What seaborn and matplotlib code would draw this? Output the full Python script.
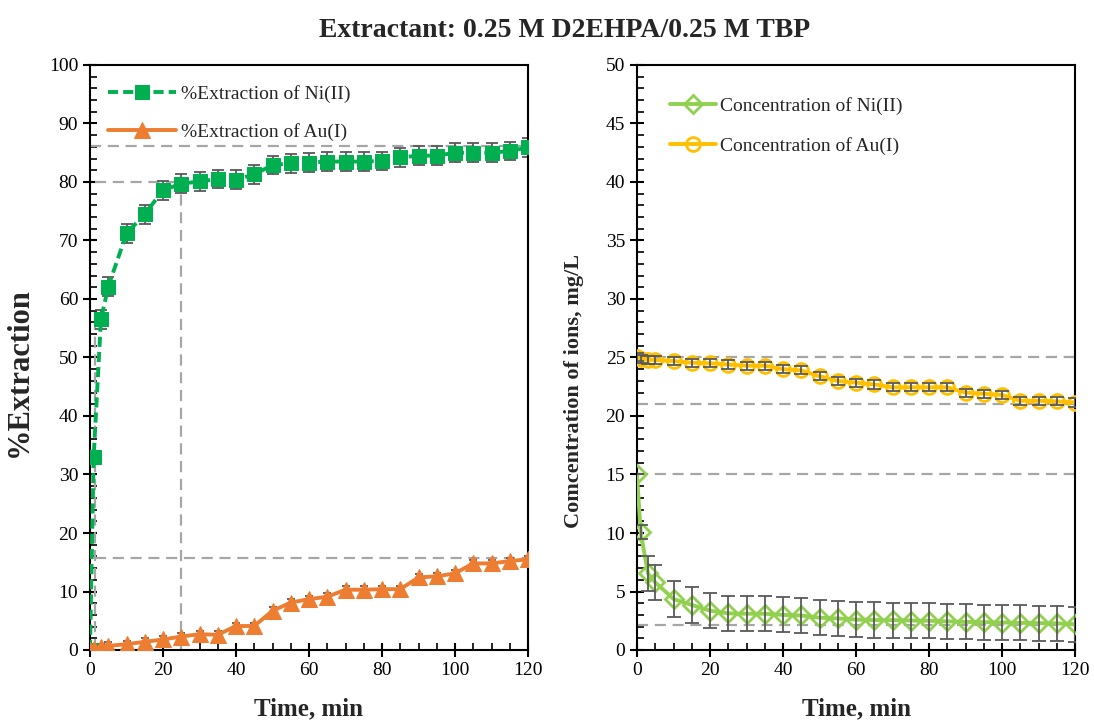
import numpy as np
import pandas as pd
import matplotlib
matplotlib.use("Agg")
import matplotlib.pyplot as plt
import seaborn as sns
from matplotlib.ticker import MultipleLocator

time = [0, 1, 3, 5, 10, 15, 20, 25, 30, 35, 40, 45, 50, 55, 60, 65, 70, 75, 80, 85, 90, 95, 100, 105, 110, 115, 120]
ext_ni = [0, 33.0, 56.5, 62.1, 71.2, 74.5, 78.6, 79.7, 80.1, 80.5, 80.4, 81.3, 82.9, 83.2, 83.3, 83.5, 83.5, 83.5, 83.6, 84.2, 84.5, 84.5, 85.0, 85.0, 85.0, 85.3, 85.9]
ext_ni_err = [0, 1.0, 1.6, 1.6, 1.6, 1.6, 1.6, 1.6, 1.6, 1.6, 1.6, 1.6, 1.6, 1.6, 1.6, 1.6, 1.6, 1.6, 1.6, 1.6, 1.6, 1.6, 1.6, 1.6, 1.6, 1.6, 1.6]
ext_au = [0, 0.2, 0.5, 0.7, 1.0, 1.4, 1.8, 2.3, 2.7, 2.6, 4.1, 4.1, 6.7, 8.1, 8.7, 9.1, 10.3, 10.3, 10.4, 10.4, 12.4, 12.6, 13.1, 14.8, 14.8, 15.2, 15.5]
ext_au_err = [0.6] * 27
conc_ni = [15.0, 10.06, 6.55, 5.78, 4.36, 3.85, 3.36, 3.13, 3.1, 3.1, 3.0, 2.95, 2.76, 2.7, 2.6, 2.56, 2.55, 2.52, 2.5, 2.45, 2.4, 2.38, 2.35, 2.32, 2.3, 2.28, 2.2]
conc_ni_err = [0, 0.6, 1.5, 1.5, 1.5, 1.5, 1.5, 1.5, 1.5, 1.5, 1.5, 1.5, 1.5, 1.5, 1.5, 1.5, 1.5, 1.5, 1.5, 1.5, 1.5, 1.5, 1.5, 1.5, 1.5, 1.5, 1.5]
conc_au = [25.07, 24.9, 24.8, 24.8, 24.7, 24.55, 24.5, 24.4, 24.3, 24.3, 24.0, 23.9, 23.4, 23.0, 22.85, 22.7, 22.45, 22.45, 22.45, 22.45, 22.0, 21.9, 21.8, 21.3, 21.3, 21.25, 21.15]
conc_au_err = [0.35] * 27

# reference guide lines (value pairs)
left_guides_x = [[0, 120], [1.5, 25], [25, 25], [1.5, 120], [1.5, 1.5]]
left_guides_y = [[86.2, 86.2], [80, 80], [0, 80], [15.8, 15.8], [0, 56]]
right_guides_y = [25.0, 21.0, 15.0, 2.1]

sns.set_theme(style="white")
plt.rcParams['font.family'] = ['Liberation Serif', 'DejaVu Serif']

fig = plt.figure(figsize=(10.94, 7.22), dpi=100)
axL = fig.add_axes([90/1094, 72/722, 438/1094, 585/722])
axR = fig.add_axes([637/1094, 72/722, 438/1094, 585/722])

green = "#00B050"
orange = "#ED7D31"
lgreen = "#92D050"
gold = "#FFC000"
ecol = "#595959"
gcol = "#A6A6A6"

df = pd.DataFrame({"time": time, "ext_ni": ext_ni, "ext_au": ext_au, "conc_ni": conc_ni, "conc_au": conc_au})

# guides
for gx, gy in zip(left_guides_x, left_guides_y):
    axL.plot(gx, gy, color=gcol, lw=1.6, ls=(0, (5, 3)), zorder=1)
for gy in right_guides_y:
    axR.plot([0, 120], [gy, gy], color=gcol, lw=1.6, ls=(0, (5, 3)), zorder=1)

# error bars (behind markers)
axL.errorbar(time, ext_ni, yerr=ext_ni_err, fmt="none", ecolor=ecol, elinewidth=1.3, capsize=4, capthick=1.3, zorder=2)
axL.errorbar(time, ext_au, yerr=ext_au_err, fmt="none", ecolor=ecol, elinewidth=1.3, capsize=3, capthick=1.3, zorder=2)

# left
sns.lineplot(data=df, x="time", y="ext_ni", ax=axL, color=green, lw=2.8, linestyle=(0, (2.6, 1.3)),
             marker="s", markersize=10, markeredgecolor=green, label="%Extraction of Ni(II)", zorder=3)
sns.lineplot(data=df, x="time", y="ext_au", ax=axL, color=orange, lw=2.8,
             marker="^", markersize=11, markeredgecolor=orange, label="%Extraction of Au(I)", zorder=3)

# right
sns.lineplot(data=df, x="time", y="conc_ni", ax=axR, color=lgreen, lw=2.8,
             marker="D", markersize=9, markerfacecolor="none", markeredgecolor=lgreen, markeredgewidth=2,
             label="Concentration of Ni(II)", zorder=3)
sns.lineplot(data=df, x="time", y="conc_au", ax=axR, color=gold, lw=2.8,
             marker="o", markersize=10, markerfacecolor="none", markeredgecolor=gold, markeredgewidth=2,
             label="Concentration of Au(I)", zorder=3)
axR.errorbar(time, conc_ni, yerr=conc_ni_err, fmt="none", ecolor=ecol, elinewidth=1.3, capsize=5, capthick=1.3, zorder=4)
axR.errorbar(time, conc_au, yerr=conc_au_err, fmt="none", ecolor=ecol, elinewidth=1.3, capsize=5, capthick=1.3, zorder=4)

for ax, ymax, ymaj, ymin in [(axL, 100, 10, 2), (axR, 50, 5, 1)]:
    ax.set_xlim(0, 120)
    ax.set_ylim(0, ymax)
    ax.xaxis.set_major_locator(MultipleLocator(20))
    ax.xaxis.set_minor_locator(MultipleLocator(5))
    ax.yaxis.set_major_locator(MultipleLocator(ymaj))
    ax.yaxis.set_minor_locator(MultipleLocator(ymin))
    ax.tick_params(which="major", direction="inout", length=10, width=1.5, labelsize=14, color="black", left=True, bottom=True)
    ax.tick_params(which="minor", direction="in", length=5, width=1.2, color="black", left=True, bottom=True)
    for s in ax.spines.values():
        s.set_color("black")
        s.set_linewidth(1.5)
    ax.set_xlabel("Time, min", fontsize=18, fontweight="bold", labelpad=13)
    for lab in ax.get_xticklabels() + ax.get_yticklabels():
        lab.set_color("black")
    ax.set_facecolor("white")

axL.set_ylabel("%Extraction", fontsize=22, fontweight="bold")
axL.yaxis.set_label_coords(-0.128, 0.475)
axR.set_ylabel("Comcentration of ions, mg/L", fontsize=16, fontweight="bold")
axR.yaxis.set_label_coords(-0.122, 0.443)

axL.legend(loc="upper left", bbox_to_anchor=(0.0, 0.995), frameon=False, fontsize=14, handlelength=3.5,
           labelspacing=1.0, handletextpad=0.3)
axR.legend(loc="upper left", bbox_to_anchor=(0.035, 0.975), frameon=False, fontsize=14, handlelength=2.4,
           labelspacing=1.15, handletextpad=0.2)

fig.suptitle("Extractant: 0.25 M D2EHPA/0.25 M TBP", x=0.516, y=0.975, fontsize=20, fontweight="bold")

fig.savefig("out.png", dpi=100, facecolor="white")
